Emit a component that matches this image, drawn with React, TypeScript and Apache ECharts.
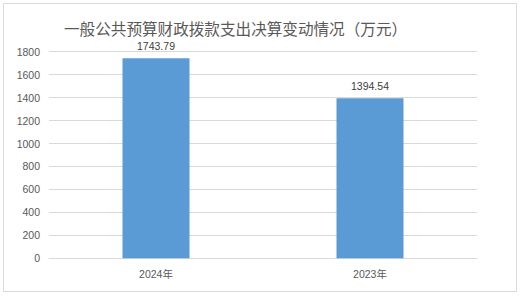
import React, { useEffect, useRef } from "react";
import * as echarts from "echarts";

const categories = ["2024年", "2023年"];
const values = [1743.79, 1394.54];
const titleText = "一般公共预算财政拨款支出决算变动情况（万元）";

export default function App() {
  const ref = useRef<HTMLDivElement>(null);
  useEffect(() => {
    document.body.style.margin = "0";
    const chart = echarts.init(ref.current!, null, { renderer: "svg" });
    chart.setOption({
      animation: false,
      backgroundColor: "#ffffff",
      title: {
        text: titleText,
        left: 59,
        top: 15,
        textStyle: {
          fontFamily: "Noto Sans CJK SC",
          fontSize: 15.6,
          fontWeight: "normal",
          color: "#595959",
        },
      },
      graphic: [
        {
          type: "rect",
          shape: { x: 3.5, y: 3.5, width: 513, height: 288 },
          style: { fill: "none", stroke: "#D9D9D9", lineWidth: 1 },
          silent: true,
        },
      ],
      grid: { left: 49, right: 46, top: 51.7, bottom: 38.7, containLabel: false },
      xAxis: {
        type: "category",
        data: categories,
        axisLine: { lineStyle: { color: "#D9D9D9" } },
        axisTick: { show: false },
        axisLabel: {
          color: "#595959",
          fontSize: 10.5,
          fontFamily: "Liberation Sans, Noto Sans CJK SC",
          margin: 10,
        },
      },
      yAxis: {
        type: "value",
        min: 0,
        max: 1800,
        interval: 200,
        axisLine: { show: false },
        axisTick: { show: false },
        splitLine: { lineStyle: { color: "#D9D9D9" } },
        axisLabel: {
          color: "#595959",
          fontSize: 10.5,
          fontFamily: "Liberation Sans",
          margin: 9,
          formatter: (v: number) => String(v),
        },
      },
      series: [
        {
          type: "bar",
          data: values,
          barWidth: 67,
          itemStyle: { color: "#5B9BD5" },
          label: {
            show: true,
            position: "top",
            distance: 7,
            color: "#404040",
            fontSize: 10.5,
            fontFamily: "Liberation Sans",
            formatter: (p: any) => p.value.toFixed(2),
          },
        },
      ],
    });
    return () => chart.dispose();
  }, []);
  return <div ref={ref} style={{ width: 523, height: 297 }} />;
}
